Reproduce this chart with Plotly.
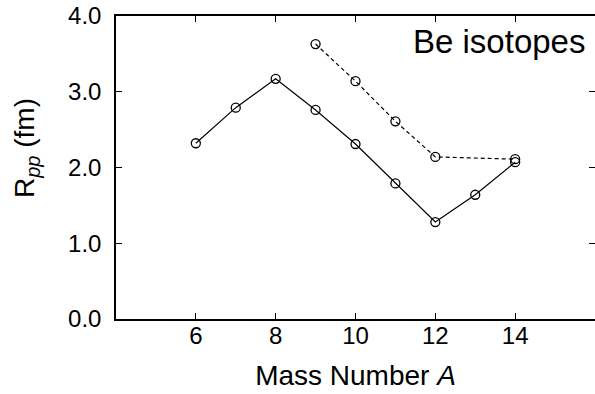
import plotly.graph_objects as go

mass_solid = [6, 7, 8, 9, 10, 11, 12, 13, 14]
rpp_solid = [2.32, 2.79, 3.17, 2.76, 2.31, 1.79, 1.28, 1.64, 2.07]
mass_dashed = [9, 10, 11, 12, 14]
rpp_dashed = [3.63, 3.14, 2.61, 2.14, 2.11]
x_ticks = [6, 8, 10, 12, 14]
y_ticks = [0, 1, 2, 3, 4]

FONT = "Liberation Sans, Arial, Helvetica, sans-serif"

fig = go.Figure()
fig.add_trace(go.Scatter(
    x=mass_solid, y=rpp_solid, mode="lines+markers",
    line=dict(color="black", width=1.2),
    marker=dict(symbol="circle-open", size=9, color="black", line=dict(width=1.3)),
    showlegend=False))
fig.add_trace(go.Scatter(
    x=mass_dashed, y=rpp_dashed, mode="lines+markers",
    line=dict(color="black", width=1.2, dash="4px,3px"),
    marker=dict(symbol="circle-open", size=9, color="black", line=dict(width=1.3)),
    showlegend=False))
# invisible trace for right-side ticks
fig.add_trace(go.Scatter(x=[None], y=[None], yaxis="y2", showlegend=False))

fig.update_layout(
    width=595, height=394,
    margin=dict(l=116, r=0, t=16, b=75),
    paper_bgcolor="white", plot_bgcolor="white",
    font=dict(family=FONT, color="black"),
    xaxis=dict(
        range=[4, 16], tickvals=x_ticks, ticks="inside", ticklen=6, tickwidth=1,
        tickcolor="black", showline=True, linecolor="black", linewidth=1.5,
        mirror="ticks", showgrid=False, zeroline=False, ticklabelstandoff=-6,
        tickfont=dict(size=24, family=FONT),
        title=dict(text="Mass Number <i>A</i>", font=dict(size=28, family=FONT), standoff=18),
    ),
    yaxis=dict(
        range=[0, 4], tickvals=y_ticks, tickformat=".1f", ticks="inside", ticklen=6,
        tickwidth=1, tickcolor="black", showline=True, linecolor="black", linewidth=1.5,
        showgrid=False, zeroline=False, ticklabelstandoff=8,
        tickfont=dict(size=24, family=FONT),
    ),
    yaxis2=dict(
        range=[0, 4], tickvals=y_ticks, overlaying="y", side="right", ticks="inside",
        ticklen=6, tickwidth=1, tickcolor="black", showline=False, showgrid=False,
        zeroline=False, showticklabels=False,
    ),
    annotations=[
        dict(
            text="Be isotopes", x=15.8, y=3.66, xref="x", yref="y",
            xanchor="right", yanchor="middle", showarrow=False,
            font=dict(size=33, family=FONT, color="black"),
        ),
        dict(
            text="R<sub><i><span style='font-size:20px'>pp</span></i></sub> (fm)",
            x=-0.188, y=0.564, xref="paper", yref="paper", textangle=-90,
            xanchor="center", yanchor="middle", showarrow=False,
            font=dict(size=28, family=FONT, color="black"),
        ),
    ],
)

fig.write_html("out.html")
